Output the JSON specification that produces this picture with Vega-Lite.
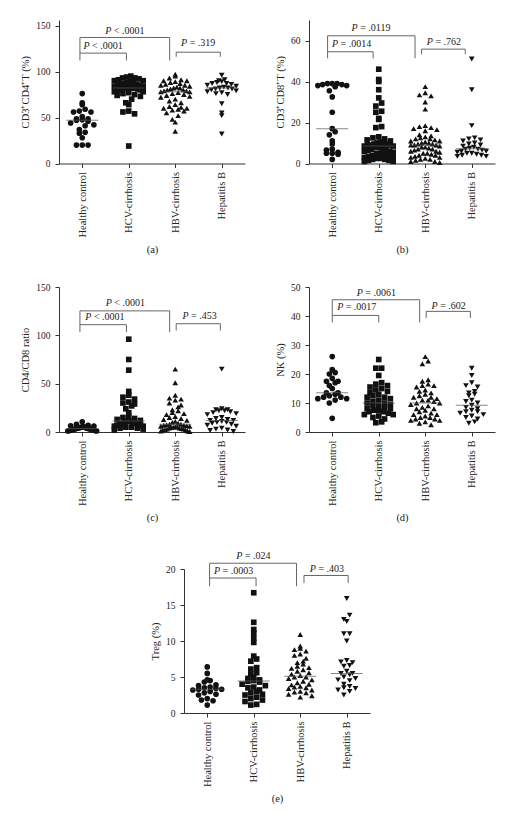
{
"$schema": "https://vega.github.io/schema/vega-lite/v6.json",
"background": "white",
"padding": {"left": 20, "top": 20, "right": 5, "bottom": 5},
"config": {"view": {"stroke": null},
 "axis": {"grid": false, "labelFont": "Liberation Serif", "titleFont": "Liberation Serif", "labelFontSize": 9.5, "titleFontSize": 10.5, "titleFontWeight": "normal", "labelColor": "#222", "titleColor": "#222", "domainColor": "#333", "tickColor": "#333", "labelFlush": false, "labelOverlap": false},
 "axisX": {"labelAngle": -90, "labelAlign": "right", "labelBaseline": "middle", "labelFontSize": 10.5, "tickSize": 4, "labelPadding": 4, "titlePadding": 7},
 "axisY": {"tickSize": 4, "labelPadding": 5, "titlePadding": 5},
 "text": {"font": "Liberation Serif"}},
"datasets": {
"pts": [
{"p":"a","g":1,"v":76},{"p":"a","g":1,"v":66},{"p":"a","g":1,"v":64},{"p":"a","g":1,"v":59},{"p":"a","g":1,"v":57},{"p":"a","g":1,"v":56},{"p":"a","g":1,"v":56},{"p":"a","g":1,"v":51},{"p":"a","g":1,"v":48.5},{"p":"a","g":1,"v":48.5},{"p":"a","g":1,"v":47.5},{"p":"a","g":1,"v":47},{"p":"a","g":1,"v":46},{"p":"a","g":1,"v":44},{"p":"a","g":1,"v":42},{"p":"a","g":1,"v":41},{"p":"a","g":1,"v":37},{"p":"a","g":1,"v":34},{"p":"a","g":1,"v":33},{"p":"a","g":1,"v":28},{"p":"a","g":1,"v":20},{"p":"a","g":1,"v":20},{"p":"a","g":1,"v":20},
{"p":"a","g":2,"v":95},{"p":"a","g":2,"v":94},{"p":"a","g":2,"v":93},{"p":"a","g":2,"v":93},{"p":"a","g":2,"v":92},{"p":"a","g":2,"v":91},{"p":"a","g":2,"v":90},{"p":"a","g":2,"v":90},{"p":"a","g":2,"v":89},{"p":"a","g":2,"v":88},{"p":"a","g":2,"v":88},{"p":"a","g":2,"v":87},{"p":"a","g":2,"v":86},{"p":"a","g":2,"v":86},{"p":"a","g":2,"v":85},{"p":"a","g":2,"v":85},{"p":"a","g":2,"v":84},{"p":"a","g":2,"v":84},{"p":"a","g":2,"v":83},{"p":"a","g":2,"v":83},{"p":"a","g":2,"v":82},{"p":"a","g":2,"v":82},{"p":"a","g":2,"v":82},{"p":"a","g":2,"v":81},{"p":"a","g":2,"v":81},{"p":"a","g":2,"v":80},{"p":"a","g":2,"v":80},{"p":"a","g":2,"v":79},{"p":"a","g":2,"v":78},{"p":"a","g":2,"v":78},{"p":"a","g":2,"v":77},{"p":"a","g":2,"v":76},{"p":"a","g":2,"v":75},{"p":"a","g":2,"v":74},{"p":"a","g":2,"v":73},{"p":"a","g":2,"v":70},{"p":"a","g":2,"v":66},{"p":"a","g":2,"v":64},{"p":"a","g":2,"v":57},{"p":"a","g":2,"v":56},{"p":"a","g":2,"v":54},{"p":"a","g":2,"v":19},
{"p":"a","g":3,"v":97},{"p":"a","g":3,"v":95},{"p":"a","g":3,"v":93},{"p":"a","g":3,"v":91},{"p":"a","g":3,"v":90},{"p":"a","g":3,"v":90},{"p":"a","g":3,"v":89},{"p":"a","g":3,"v":88},{"p":"a","g":3,"v":87},{"p":"a","g":3,"v":86},{"p":"a","g":3,"v":85},{"p":"a","g":3,"v":85},{"p":"a","g":3,"v":84},{"p":"a","g":3,"v":83},{"p":"a","g":3,"v":82},{"p":"a","g":3,"v":82},{"p":"a","g":3,"v":81},{"p":"a","g":3,"v":80},{"p":"a","g":3,"v":80},{"p":"a","g":3,"v":79},{"p":"a","g":3,"v":79},{"p":"a","g":3,"v":78},{"p":"a","g":3,"v":78},{"p":"a","g":3,"v":77},{"p":"a","g":3,"v":76},{"p":"a","g":3,"v":75},{"p":"a","g":3,"v":74},{"p":"a","g":3,"v":73},{"p":"a","g":3,"v":72},{"p":"a","g":3,"v":70},{"p":"a","g":3,"v":68},{"p":"a","g":3,"v":66},{"p":"a","g":3,"v":64},{"p":"a","g":3,"v":62},{"p":"a","g":3,"v":61},{"p":"a","g":3,"v":60},{"p":"a","g":3,"v":60},{"p":"a","g":3,"v":59},{"p":"a","g":3,"v":58},{"p":"a","g":3,"v":57},{"p":"a","g":3,"v":55},{"p":"a","g":3,"v":52},{"p":"a","g":3,"v":48},{"p":"a","g":3,"v":45},{"p":"a","g":3,"v":35},
{"p":"a","g":4,"v":96},{"p":"a","g":4,"v":91},{"p":"a","g":4,"v":90},{"p":"a","g":4,"v":89},{"p":"a","g":4,"v":88},{"p":"a","g":4,"v":87},{"p":"a","g":4,"v":87},{"p":"a","g":4,"v":86},{"p":"a","g":4,"v":85},{"p":"a","g":4,"v":84},{"p":"a","g":4,"v":83},{"p":"a","g":4,"v":82},{"p":"a","g":4,"v":82},{"p":"a","g":4,"v":81},{"p":"a","g":4,"v":81},{"p":"a","g":4,"v":80},{"p":"a","g":4,"v":79},{"p":"a","g":4,"v":78},{"p":"a","g":4,"v":77},{"p":"a","g":4,"v":76},{"p":"a","g":4,"v":75},{"p":"a","g":4,"v":65},{"p":"a","g":4,"v":55},{"p":"a","g":4,"v":52},{"p":"a","g":4,"v":32},
{"p":"b","g":1,"v":39},{"p":"b","g":1,"v":39},{"p":"b","g":1,"v":39},{"p":"b","g":1,"v":38.5},{"p":"b","g":1,"v":38.5},{"p":"b","g":1,"v":38},{"p":"b","g":1,"v":38},{"p":"b","g":1,"v":37.5},{"p":"b","g":1,"v":35.5},{"p":"b","g":1,"v":32.5},{"p":"b","g":1,"v":25},{"p":"b","g":1,"v":17},{"p":"b","g":1,"v":15.5},{"p":"b","g":1,"v":14},{"p":"b","g":1,"v":11},{"p":"b","g":1,"v":9.5},{"p":"b","g":1,"v":7},{"p":"b","g":1,"v":6.5},{"p":"b","g":1,"v":5.5},{"p":"b","g":1,"v":5},{"p":"b","g":1,"v":5},{"p":"b","g":1,"v":4.5},{"p":"b","g":1,"v":2},
{"p":"b","g":2,"v":46},{"p":"b","g":2,"v":41},{"p":"b","g":2,"v":40},{"p":"b","g":2,"v":36},{"p":"b","g":2,"v":32},{"p":"b","g":2,"v":29.5},{"p":"b","g":2,"v":28},{"p":"b","g":2,"v":25.5},{"p":"b","g":2,"v":25},{"p":"b","g":2,"v":22},{"p":"b","g":2,"v":21.5},{"p":"b","g":2,"v":18},{"p":"b","g":2,"v":17.5},{"p":"b","g":2,"v":13},{"p":"b","g":2,"v":12.5},{"p":"b","g":2,"v":12},{"p":"b","g":2,"v":11.5},{"p":"b","g":2,"v":11},{"p":"b","g":2,"v":10.5},{"p":"b","g":2,"v":10},{"p":"b","g":2,"v":10},{"p":"b","g":2,"v":9.5},{"p":"b","g":2,"v":9.5},{"p":"b","g":2,"v":9},{"p":"b","g":2,"v":9},{"p":"b","g":2,"v":9},{"p":"b","g":2,"v":8.5},{"p":"b","g":2,"v":8.5},{"p":"b","g":2,"v":8},{"p":"b","g":2,"v":8},{"p":"b","g":2,"v":7.5},{"p":"b","g":2,"v":7},{"p":"b","g":2,"v":7},{"p":"b","g":2,"v":6.5},{"p":"b","g":2,"v":6},{"p":"b","g":2,"v":6},{"p":"b","g":2,"v":5.5},{"p":"b","g":2,"v":5},{"p":"b","g":2,"v":5},{"p":"b","g":2,"v":4.5},{"p":"b","g":2,"v":4},{"p":"b","g":2,"v":4},{"p":"b","g":2,"v":3.5},{"p":"b","g":2,"v":3},{"p":"b","g":2,"v":3},{"p":"b","g":2,"v":2.5},{"p":"b","g":2,"v":2.5},{"p":"b","g":2,"v":2},{"p":"b","g":2,"v":2},{"p":"b","g":2,"v":1.5},{"p":"b","g":2,"v":1.5},{"p":"b","g":2,"v":1},{"p":"b","g":2,"v":1},
{"p":"b","g":3,"v":37.5},{"p":"b","g":3,"v":34.5},{"p":"b","g":3,"v":33.5},{"p":"b","g":3,"v":33},{"p":"b","g":3,"v":30},{"p":"b","g":3,"v":26.5},{"p":"b","g":3,"v":18.5},{"p":"b","g":3,"v":18},{"p":"b","g":3,"v":17.5},{"p":"b","g":3,"v":17},{"p":"b","g":3,"v":16.5},{"p":"b","g":3,"v":16},{"p":"b","g":3,"v":14},{"p":"b","g":3,"v":13.5},{"p":"b","g":3,"v":13},{"p":"b","g":3,"v":12.5},{"p":"b","g":3,"v":12},{"p":"b","g":3,"v":12},{"p":"b","g":3,"v":11.5},{"p":"b","g":3,"v":11},{"p":"b","g":3,"v":11},{"p":"b","g":3,"v":10.5},{"p":"b","g":3,"v":10},{"p":"b","g":3,"v":10},{"p":"b","g":3,"v":9.5},{"p":"b","g":3,"v":9.5},{"p":"b","g":3,"v":9},{"p":"b","g":3,"v":9},{"p":"b","g":3,"v":9},{"p":"b","g":3,"v":8.5},{"p":"b","g":3,"v":8},{"p":"b","g":3,"v":8},{"p":"b","g":3,"v":7.5},{"p":"b","g":3,"v":7},{"p":"b","g":3,"v":7},{"p":"b","g":3,"v":6.5},{"p":"b","g":3,"v":6},{"p":"b","g":3,"v":6},{"p":"b","g":3,"v":5.5},{"p":"b","g":3,"v":5},{"p":"b","g":3,"v":5},{"p":"b","g":3,"v":4.5},{"p":"b","g":3,"v":4},{"p":"b","g":3,"v":4},{"p":"b","g":3,"v":3.5},{"p":"b","g":3,"v":3},{"p":"b","g":3,"v":3},{"p":"b","g":3,"v":2.5},{"p":"b","g":3,"v":2},{"p":"b","g":3,"v":2},{"p":"b","g":3,"v":1.5},{"p":"b","g":3,"v":1},{"p":"b","g":3,"v":1},{"p":"b","g":3,"v":0.5},
{"p":"b","g":4,"v":51},{"p":"b","g":4,"v":36},{"p":"b","g":4,"v":18.5},{"p":"b","g":4,"v":12.5},{"p":"b","g":4,"v":12},{"p":"b","g":4,"v":11.5},{"p":"b","g":4,"v":11},{"p":"b","g":4,"v":10},{"p":"b","g":4,"v":9.5},{"p":"b","g":4,"v":9},{"p":"b","g":4,"v":8.5},{"p":"b","g":4,"v":8},{"p":"b","g":4,"v":7.5},{"p":"b","g":4,"v":7},{"p":"b","g":4,"v":7},{"p":"b","g":4,"v":6.5},{"p":"b","g":4,"v":6},{"p":"b","g":4,"v":6},{"p":"b","g":4,"v":5.5},{"p":"b","g":4,"v":5},{"p":"b","g":4,"v":5},{"p":"b","g":4,"v":4.5},{"p":"b","g":4,"v":4},{"p":"b","g":4,"v":4},{"p":"b","g":4,"v":3.5},{"p":"b","g":4,"v":3.5},
{"p":"c","g":1,"v":10.5},{"p":"c","g":1,"v":8},{"p":"c","g":1,"v":7},{"p":"c","g":1,"v":6.5},{"p":"c","g":1,"v":6},{"p":"c","g":1,"v":5.5},{"p":"c","g":1,"v":5},{"p":"c","g":1,"v":5},{"p":"c","g":1,"v":4.5},{"p":"c","g":1,"v":4},{"p":"c","g":1,"v":4},{"p":"c","g":1,"v":3.5},{"p":"c","g":1,"v":3.5},{"p":"c","g":1,"v":3},{"p":"c","g":1,"v":3},{"p":"c","g":1,"v":2.5},{"p":"c","g":1,"v":2.5},{"p":"c","g":1,"v":2},{"p":"c","g":1,"v":2},{"p":"c","g":1,"v":1.5},{"p":"c","g":1,"v":1.5},{"p":"c","g":1,"v":1},{"p":"c","g":1,"v":1},
{"p":"c","g":2,"v":96},{"p":"c","g":2,"v":75},{"p":"c","g":2,"v":64},{"p":"c","g":2,"v":42},{"p":"c","g":2,"v":38},{"p":"c","g":2,"v":36},{"p":"c","g":2,"v":34},{"p":"c","g":2,"v":31},{"p":"c","g":2,"v":30},{"p":"c","g":2,"v":29},{"p":"c","g":2,"v":27},{"p":"c","g":2,"v":24},{"p":"c","g":2,"v":20},{"p":"c","g":2,"v":16},{"p":"c","g":2,"v":15},{"p":"c","g":2,"v":14},{"p":"c","g":2,"v":13},{"p":"c","g":2,"v":12},{"p":"c","g":2,"v":11},{"p":"c","g":2,"v":11},{"p":"c","g":2,"v":10},{"p":"c","g":2,"v":10},{"p":"c","g":2,"v":9},{"p":"c","g":2,"v":9},{"p":"c","g":2,"v":8},{"p":"c","g":2,"v":8},{"p":"c","g":2,"v":7},{"p":"c","g":2,"v":7},{"p":"c","g":2,"v":6},{"p":"c","g":2,"v":6},{"p":"c","g":2,"v":5},{"p":"c","g":2,"v":5},{"p":"c","g":2,"v":4},{"p":"c","g":2,"v":4},{"p":"c","g":2,"v":3},{"p":"c","g":2,"v":2},
{"p":"c","g":3,"v":65},{"p":"c","g":3,"v":51},{"p":"c","g":3,"v":38},{"p":"c","g":3,"v":35},{"p":"c","g":3,"v":34},{"p":"c","g":3,"v":33},{"p":"c","g":3,"v":30},{"p":"c","g":3,"v":28},{"p":"c","g":3,"v":26},{"p":"c","g":3,"v":23},{"p":"c","g":3,"v":22},{"p":"c","g":3,"v":20},{"p":"c","g":3,"v":19},{"p":"c","g":3,"v":18},{"p":"c","g":3,"v":16},{"p":"c","g":3,"v":15},{"p":"c","g":3,"v":14},{"p":"c","g":3,"v":13},{"p":"c","g":3,"v":12},{"p":"c","g":3,"v":11},{"p":"c","g":3,"v":10},{"p":"c","g":3,"v":9},{"p":"c","g":3,"v":8},{"p":"c","g":3,"v":8},{"p":"c","g":3,"v":7.5},{"p":"c","g":3,"v":7},{"p":"c","g":3,"v":7},{"p":"c","g":3,"v":6.5},{"p":"c","g":3,"v":6},{"p":"c","g":3,"v":6},{"p":"c","g":3,"v":5.5},{"p":"c","g":3,"v":5},{"p":"c","g":3,"v":5},{"p":"c","g":3,"v":4.5},{"p":"c","g":3,"v":4},{"p":"c","g":3,"v":4},{"p":"c","g":3,"v":3.5},{"p":"c","g":3,"v":3},{"p":"c","g":3,"v":3},{"p":"c","g":3,"v":2.5},{"p":"c","g":3,"v":2},{"p":"c","g":3,"v":2},{"p":"c","g":3,"v":1},{"p":"c","g":3,"v":1},{"p":"c","g":3,"v":0.5},
{"p":"c","g":4,"v":65},{"p":"c","g":4,"v":24},{"p":"c","g":4,"v":23},{"p":"c","g":4,"v":23},{"p":"c","g":4,"v":22},{"p":"c","g":4,"v":22},{"p":"c","g":4,"v":21},{"p":"c","g":4,"v":20},{"p":"c","g":4,"v":19},{"p":"c","g":4,"v":18},{"p":"c","g":4,"v":15},{"p":"c","g":4,"v":14},{"p":"c","g":4,"v":13},{"p":"c","g":4,"v":12},{"p":"c","g":4,"v":12},{"p":"c","g":4,"v":11},{"p":"c","g":4,"v":10},{"p":"c","g":4,"v":10},{"p":"c","g":4,"v":9},{"p":"c","g":4,"v":8},{"p":"c","g":4,"v":7},{"p":"c","g":4,"v":6},{"p":"c","g":4,"v":4},{"p":"c","g":4,"v":3},{"p":"c","g":4,"v":2},{"p":"c","g":4,"v":1.5},{"p":"c","g":4,"v":0.5},
{"p":"d","g":1,"v":26},{"p":"d","g":1,"v":21.5},{"p":"d","g":1,"v":20.5},{"p":"d","g":1,"v":20},{"p":"d","g":1,"v":18.5},{"p":"d","g":1,"v":17.5},{"p":"d","g":1,"v":17.5},{"p":"d","g":1,"v":17},{"p":"d","g":1,"v":16},{"p":"d","g":1,"v":15},{"p":"d","g":1,"v":13.5},{"p":"d","g":1,"v":13.5},{"p":"d","g":1,"v":13},{"p":"d","g":1,"v":12.5},{"p":"d","g":1,"v":12},{"p":"d","g":1,"v":12},{"p":"d","g":1,"v":11.5},{"p":"d","g":1,"v":11.5},{"p":"d","g":1,"v":11},{"p":"d","g":1,"v":10},{"p":"d","g":1,"v":4.7},
{"p":"d","g":2,"v":25},{"p":"d","g":2,"v":22},{"p":"d","g":2,"v":22},{"p":"d","g":2,"v":19.5},{"p":"d","g":2,"v":17},{"p":"d","g":2,"v":16.5},{"p":"d","g":2,"v":16},{"p":"d","g":2,"v":15.5},{"p":"d","g":2,"v":15},{"p":"d","g":2,"v":14.5},{"p":"d","g":2,"v":14},{"p":"d","g":2,"v":13.5},{"p":"d","g":2,"v":13},{"p":"d","g":2,"v":12.5},{"p":"d","g":2,"v":12},{"p":"d","g":2,"v":12},{"p":"d","g":2,"v":11.5},{"p":"d","g":2,"v":11},{"p":"d","g":2,"v":10.5},{"p":"d","g":2,"v":10},{"p":"d","g":2,"v":10},{"p":"d","g":2,"v":9.5},{"p":"d","g":2,"v":9},{"p":"d","g":2,"v":9},{"p":"d","g":2,"v":8.5},{"p":"d","g":2,"v":8},{"p":"d","g":2,"v":8},{"p":"d","g":2,"v":7.5},{"p":"d","g":2,"v":7.5},{"p":"d","g":2,"v":7},{"p":"d","g":2,"v":7},{"p":"d","g":2,"v":6.5},{"p":"d","g":2,"v":6},{"p":"d","g":2,"v":6},{"p":"d","g":2,"v":5.5},{"p":"d","g":2,"v":5},{"p":"d","g":2,"v":4.5},{"p":"d","g":2,"v":3.5},{"p":"d","g":2,"v":3.2},
{"p":"d","g":3,"v":26},{"p":"d","g":3,"v":24.5},{"p":"d","g":3,"v":23.5},{"p":"d","g":3,"v":18},{"p":"d","g":3,"v":17.5},{"p":"d","g":3,"v":16.5},{"p":"d","g":3,"v":16},{"p":"d","g":3,"v":16},{"p":"d","g":3,"v":15.5},{"p":"d","g":3,"v":14.5},{"p":"d","g":3,"v":14},{"p":"d","g":3,"v":13.5},{"p":"d","g":3,"v":13},{"p":"d","g":3,"v":12.5},{"p":"d","g":3,"v":12},{"p":"d","g":3,"v":12},{"p":"d","g":3,"v":11.5},{"p":"d","g":3,"v":11},{"p":"d","g":3,"v":11},{"p":"d","g":3,"v":10.5},{"p":"d","g":3,"v":10},{"p":"d","g":3,"v":10},{"p":"d","g":3,"v":9.5},{"p":"d","g":3,"v":9},{"p":"d","g":3,"v":8.5},{"p":"d","g":3,"v":8},{"p":"d","g":3,"v":8},{"p":"d","g":3,"v":7.5},{"p":"d","g":3,"v":7},{"p":"d","g":3,"v":6.5},{"p":"d","g":3,"v":6},{"p":"d","g":3,"v":6},{"p":"d","g":3,"v":5.5},{"p":"d","g":3,"v":5},{"p":"d","g":3,"v":5},{"p":"d","g":3,"v":4.5},{"p":"d","g":3,"v":4.5},{"p":"d","g":3,"v":4},{"p":"d","g":3,"v":4},{"p":"d","g":3,"v":3.5},{"p":"d","g":3,"v":3},{"p":"d","g":3,"v":2.5},
{"p":"d","g":4,"v":22},{"p":"d","g":4,"v":19.5},{"p":"d","g":4,"v":17},{"p":"d","g":4,"v":16},{"p":"d","g":4,"v":15.5},{"p":"d","g":4,"v":14},{"p":"d","g":4,"v":13.5},{"p":"d","g":4,"v":13},{"p":"d","g":4,"v":12.5},{"p":"d","g":4,"v":11},{"p":"d","g":4,"v":10.5},{"p":"d","g":4,"v":10},{"p":"d","g":4,"v":9.2},{"p":"d","g":4,"v":8.5},{"p":"d","g":4,"v":8},{"p":"d","g":4,"v":7.5},{"p":"d","g":4,"v":7},{"p":"d","g":4,"v":7},{"p":"d","g":4,"v":6.5},{"p":"d","g":4,"v":6},{"p":"d","g":4,"v":5.5},{"p":"d","g":4,"v":5},{"p":"d","g":4,"v":4.5},{"p":"d","g":4,"v":3.5},{"p":"d","g":4,"v":3},
{"p":"e","g":1,"v":6.4},{"p":"e","g":1,"v":5.5},{"p":"e","g":1,"v":4.6},{"p":"e","g":1,"v":4.5},{"p":"e","g":1,"v":4.3},{"p":"e","g":1,"v":3.9},{"p":"e","g":1,"v":3.8},{"p":"e","g":1,"v":3.6},{"p":"e","g":1,"v":3.5},{"p":"e","g":1,"v":3.4},{"p":"e","g":1,"v":3.3},{"p":"e","g":1,"v":3.3},{"p":"e","g":1,"v":3.2},{"p":"e","g":1,"v":3.0},{"p":"e","g":1,"v":2.8},{"p":"e","g":1,"v":2.6},{"p":"e","g":1,"v":2.5},{"p":"e","g":1,"v":2.0},{"p":"e","g":1,"v":1.8},{"p":"e","g":1,"v":1.7},{"p":"e","g":1,"v":1.1},
{"p":"e","g":2,"v":16.7},{"p":"e","g":2,"v":12.6},{"p":"e","g":2,"v":11.6},{"p":"e","g":2,"v":11.1},{"p":"e","g":2,"v":10.4},{"p":"e","g":2,"v":9.8},{"p":"e","g":2,"v":7.9},{"p":"e","g":2,"v":7.5},{"p":"e","g":2,"v":7.2},{"p":"e","g":2,"v":6.3},{"p":"e","g":2,"v":6.1},{"p":"e","g":2,"v":5.6},{"p":"e","g":2,"v":5.4},{"p":"e","g":2,"v":5.0},{"p":"e","g":2,"v":4.8},{"p":"e","g":2,"v":4.6},{"p":"e","g":2,"v":4.5},{"p":"e","g":2,"v":4.4},{"p":"e","g":2,"v":4.3},{"p":"e","g":2,"v":4.0},{"p":"e","g":2,"v":3.8},{"p":"e","g":2,"v":3.6},{"p":"e","g":2,"v":3.5},{"p":"e","g":2,"v":3.2},{"p":"e","g":2,"v":3.0},{"p":"e","g":2,"v":2.8},{"p":"e","g":2,"v":2.6},{"p":"e","g":2,"v":2.5},{"p":"e","g":2,"v":2.2},{"p":"e","g":2,"v":2.0},{"p":"e","g":2,"v":1.8},{"p":"e","g":2,"v":1.6},{"p":"e","g":2,"v":1.2},{"p":"e","g":2,"v":1.1},
{"p":"e","g":3,"v":10.9},{"p":"e","g":3,"v":9.3},{"p":"e","g":3,"v":9.0},{"p":"e","g":3,"v":8.8},{"p":"e","g":3,"v":8.6},{"p":"e","g":3,"v":8.2},{"p":"e","g":3,"v":8.0},{"p":"e","g":3,"v":7.6},{"p":"e","g":3,"v":7.2},{"p":"e","g":3,"v":7.0},{"p":"e","g":3,"v":6.8},{"p":"e","g":3,"v":6.5},{"p":"e","g":3,"v":6.3},{"p":"e","g":3,"v":6.2},{"p":"e","g":3,"v":6.0},{"p":"e","g":3,"v":5.8},{"p":"e","g":3,"v":5.6},{"p":"e","g":3,"v":5.4},{"p":"e","g":3,"v":5.2},{"p":"e","g":3,"v":5.0},{"p":"e","g":3,"v":5.0},{"p":"e","g":3,"v":4.8},{"p":"e","g":3,"v":4.6},{"p":"e","g":3,"v":4.4},{"p":"e","g":3,"v":4.2},{"p":"e","g":3,"v":4.0},{"p":"e","g":3,"v":3.9},{"p":"e","g":3,"v":3.7},{"p":"e","g":3,"v":3.6},{"p":"e","g":3,"v":3.5},{"p":"e","g":3,"v":3.4},{"p":"e","g":3,"v":3.2},{"p":"e","g":3,"v":3.0},{"p":"e","g":3,"v":2.9},{"p":"e","g":3,"v":2.8},{"p":"e","g":3,"v":2.6},{"p":"e","g":3,"v":2.4},{"p":"e","g":3,"v":2.2},
{"p":"e","g":4,"v":15.9},{"p":"e","g":4,"v":13.6},{"p":"e","g":4,"v":13.0},{"p":"e","g":4,"v":12.7},{"p":"e","g":4,"v":11.0},{"p":"e","g":4,"v":11.0},{"p":"e","g":4,"v":10.0},{"p":"e","g":4,"v":7.3},{"p":"e","g":4,"v":7.1},{"p":"e","g":4,"v":7.0},{"p":"e","g":4,"v":6.6},{"p":"e","g":4,"v":6.5},{"p":"e","g":4,"v":5.8},{"p":"e","g":4,"v":5.5},{"p":"e","g":4,"v":5.5},{"p":"e","g":4,"v":5.3},{"p":"e","g":4,"v":5.0},{"p":"e","g":4,"v":4.8},{"p":"e","g":4,"v":4.6},{"p":"e","g":4,"v":4.5},{"p":"e","g":4,"v":4.0},{"p":"e","g":4,"v":3.7},{"p":"e","g":4,"v":3.5},{"p":"e","g":4,"v":3.4},{"p":"e","g":4,"v":3.2},{"p":"e","g":4,"v":3.0},{"p":"e","g":4,"v":2.5}
],
"br": [
{"p":"a","x":0.95,"x2":2.88,"v":137,"v2":137},{"p":"a","x":0.95,"x2":0.95,"v":137,"v2":112},{"p":"a","x":2.88,"x2":2.88,"v":137,"v2":112},{"p":"a","x":0.95,"x2":1.95,"v":120,"v2":120},{"p":"a","x":1.95,"x2":1.95,"v":120,"v2":112},{"p":"a","x":3.02,"x2":3.97,"v":121,"v2":121},{"p":"a","x":3.02,"x2":3.02,"v":121,"v2":116},{"p":"a","x":3.97,"x2":3.97,"v":121,"v2":116},
{"p":"b","x":0.9,"x2":2.78,"v":62.3,"v2":62.3},{"p":"b","x":0.9,"x2":0.9,"v":62.3,"v2":51.3},{"p":"b","x":2.78,"x2":2.78,"v":62.3,"v2":51.3},{"p":"b","x":0.9,"x2":1.88,"v":54.5,"v2":54.5},{"p":"b","x":1.88,"x2":1.88,"v":54.5,"v2":51.3},{"p":"b","x":2.92,"x2":3.86,"v":55.8,"v2":55.8},{"p":"b","x":2.92,"x2":2.92,"v":55.8,"v2":53.3},{"p":"b","x":3.86,"x2":3.86,"v":55.8,"v2":53.3},
{"p":"c","x":0.95,"x2":2.88,"v":125.3,"v2":125.3},{"p":"c","x":0.95,"x2":0.95,"v":125.3,"v2":103.3},{"p":"c","x":2.88,"x2":2.88,"v":125.3,"v2":103.3},{"p":"c","x":0.95,"x2":1.95,"v":111,"v2":111},{"p":"c","x":1.95,"x2":1.95,"v":111,"v2":103.3},{"p":"c","x":3.02,"x2":3.97,"v":112,"v2":112},{"p":"c","x":3.02,"x2":3.02,"v":112,"v2":105},{"p":"c","x":3.97,"x2":3.97,"v":112,"v2":105},
{"p":"d","x":1.0,"x2":2.88,"v":45.6,"v2":45.6},{"p":"d","x":1.0,"x2":1.0,"v":45.6,"v2":37.8},{"p":"d","x":2.88,"x2":2.88,"v":45.6,"v2":37.8},{"p":"d","x":1.0,"x2":2.0,"v":40.2,"v2":40.2},{"p":"d","x":2.0,"x2":2.0,"v":40.2,"v2":37.8},{"p":"d","x":3.02,"x2":3.97,"v":41.6,"v2":41.6},{"p":"d","x":3.02,"x2":3.02,"v":41.6,"v2":39.3},{"p":"d","x":3.97,"x2":3.97,"v":41.6,"v2":39.3},
{"p":"e","x":1.05,"x2":2.92,"v":20.8,"v2":20.8},{"p":"e","x":1.05,"x2":1.05,"v":20.8,"v2":17.6},{"p":"e","x":2.92,"x2":2.92,"v":20.8,"v2":17.6},{"p":"e","x":1.05,"x2":2.05,"v":18.75,"v2":18.75},{"p":"e","x":2.05,"x2":2.05,"v":18.75,"v2":17.6},{"p":"e","x":3.08,"x2":4.03,"v":19.1,"v2":19.1},{"p":"e","x":3.08,"x2":3.08,"v":19.1,"v2":18.06},{"p":"e","x":4.03,"x2":4.03,"v":19.1,"v2":18.06}
],
"lab": [
{"p":"a","x":1.68,"v":143.5,"s":"P","t":"< .0001"},{"p":"a","x":1.21,"v":127.2,"s":"P","t":"< .0001"},{"p":"a","x":3.31,"v":130.8,"s":"P","t":"= .319"},
{"p":"b","x":1.6,"v":66,"s":"P","t":"= .0119"},{"p":"b","x":1.18,"v":58.1,"s":"P","t":"= .0014"},{"p":"b","x":3.22,"v":59.4,"s":"P","t":"= .762"},
{"p":"c","x":1.69,"v":133,"s":"P","t":"< .0001"},{"p":"c","x":1.25,"v":118.5,"s":"P","t":"< .0001"},{"p":"c","x":3.34,"v":120.2,"s":"P","t":"= .453"},
{"p":"d","x":1.71,"v":47.9,"s":"P","t":"= .0061"},{"p":"d","x":1.29,"v":43.0,"s":"P","t":"= .0017"},{"p":"d","x":3.32,"v":43.6,"s":"P","t":"= .602"},
{"p":"e","x":1.81,"v":21.8,"s":"P","t":"= .024"},{"p":"e","x":1.33,"v":19.7,"s":"P","t":"= .0003"},{"p":"e","x":3.39,"v":20.0,"s":"P","t":"= .403"}
]
},
"spacing": 27,
"center": true,
"vconcat": [
{"hconcat": [
{"width": 186, "height": 143.5,
 "encoding": {
  "x": {"field": "x", "type": "quantitative", "scale": {"domain": [0.5,4.5], "nice": false, "zero": false}, "axis": {"values": [1,2,3,4], "labelExpr": "['','Healthy control','HCV-cirrhosis','HBV-cirrhosis','Hepatitis B'][datum.value]", "title": "(a)"}},
  "y": {"field": "v", "type": "quantitative", "scale": {"domain": [0,156], "nice": false}, "axis": {"values": [0,50,100,150], "title": "CD3⁺CD4⁺T (%)"}}},
 "layer": [
 {"data": {"name": "pts"}, "transform": [{"filter": "datum.p=='a'"},{"calculate": "floor(datum.v/6)", "as": "bin"},{"window": [{"op": "row_number", "as": "k"}], "groupby": ["g","bin"]},{"joinaggregate": [{"op": "count", "as": "n"}], "groupby": ["g","bin"]},{"calculate": "datum.g+((datum.k%2==1?(datum.k-1)/2:-datum.k/2)+(datum.n%2==0?0.5:0))*min(0.125,0.62/max(1,datum.n-1))", "as": "x"}],
  "mark": {"type": "point", "filled": true, "size": 32, "color": "#111", "opacity": 1},
  "encoding": {"shape": {"field": "g", "type": "nominal", "scale": {"domain": [1,2,3,4], "range": ["circle","square","triangle-up","triangle-down"]}, "legend": null}}},
 {"data": {"name": "pts"}, "transform": [{"filter": "datum.p=='a'"},{"aggregate": [{"op": "median", "field": "v", "as": "v"}], "groupby": ["g"]},{"calculate": "datum.g", "as": "x"}],
  "mark": {"type": "tick", "orient": "horizontal", "size": 32, "thickness": 1, "color": "#555"}},
 {"data": {"name": "br"}, "transform": [{"filter": "datum.p=='a'"}], "mark": {"type": "rule", "color": "#666", "strokeWidth": 1}, "encoding": {"x2": {"field": "x2"}, "y2": {"field": "v2"}}},
 {"data": {"name": "lab"}, "transform": [{"filter": "datum.p=='a'"}], "mark": {"type": "text", "fontStyle": "italic", "align": "right", "baseline": "middle", "dx": -2.5, "fontSize": 10, "color": "#222"}, "encoding": {"text": {"field": "s"}}},
 {"data": {"name": "lab"}, "transform": [{"filter": "datum.p=='a'"}], "mark": {"type": "text", "align": "left", "baseline": "middle", "fontSize": 10, "color": "#222"}, "encoding": {"text": {"field": "t"}}}
]},
{"width": 186, "height": 143.5,
 "encoding": {
  "x": {"field": "x", "type": "quantitative", "scale": {"domain": [0.5,4.5], "nice": false, "zero": false}, "axis": {"values": [1,2,3,4], "labelExpr": "['','Healthy control','HCV-cirrhosis','HBV-cirrhosis','Hepatitis B'][datum.value]", "title": "(b)"}},
  "y": {"field": "v", "type": "quantitative", "scale": {"domain": [0,70], "nice": false}, "axis": {"values": [0,20,40,60], "title": "CD3⁺CD8⁺T (%)"}}},
 "layer": [
 {"data": {"name": "pts"}, "transform": [{"filter": "datum.p=='b'"},{"calculate": "floor(datum.v/2.7)", "as": "bin"},{"window": [{"op": "row_number", "as": "k"}], "groupby": ["g","bin"]},{"joinaggregate": [{"op": "count", "as": "n"}], "groupby": ["g","bin"]},{"calculate": "datum.g+((datum.k%2==1?(datum.k-1)/2:-datum.k/2)+(datum.n%2==0?0.5:0))*min(0.125,0.62/max(1,datum.n-1))", "as": "x"}],
  "mark": {"type": "point", "filled": true, "size": 32, "color": "#111", "opacity": 1},
  "encoding": {"shape": {"field": "g", "type": "nominal", "scale": {"domain": [1,2,3,4], "range": ["circle","square","triangle-up","triangle-down"]}, "legend": null}}},
 {"data": {"name": "pts"}, "transform": [{"filter": "datum.p=='b'"},{"aggregate": [{"op": "median", "field": "v", "as": "v"}], "groupby": ["g"]},{"calculate": "datum.g", "as": "x"}],
  "mark": {"type": "tick", "orient": "horizontal", "size": 32, "thickness": 1, "color": "#555"}},
 {"data": {"name": "br"}, "transform": [{"filter": "datum.p=='b'"}], "mark": {"type": "rule", "color": "#666", "strokeWidth": 1}, "encoding": {"x2": {"field": "x2"}, "y2": {"field": "v2"}}},
 {"data": {"name": "lab"}, "transform": [{"filter": "datum.p=='b'"}], "mark": {"type": "text", "fontStyle": "italic", "align": "right", "baseline": "middle", "dx": -2.5, "fontSize": 10, "color": "#222"}, "encoding": {"text": {"field": "s"}}},
 {"data": {"name": "lab"}, "transform": [{"filter": "datum.p=='b'"}], "mark": {"type": "text", "align": "left", "baseline": "middle", "fontSize": 10, "color": "#222"}, "encoding": {"text": {"field": "t"}}}
]}
], "spacing": 30},
{"hconcat": [
{"width": 186, "height": 145,
 "encoding": {
  "x": {"field": "x", "type": "quantitative", "scale": {"domain": [0.5,4.5], "nice": false, "zero": false}, "axis": {"values": [1,2,3,4], "labelExpr": "['','Healthy control','HCV-cirrhosis','HBV-cirrhosis','Hepatitis B'][datum.value]", "title": "(c)"}},
  "y": {"field": "v", "type": "quantitative", "scale": {"domain": [0,150], "nice": false}, "axis": {"values": [0,50,100,150], "title": "CD4/CD8 ratio"}}},
 "layer": [
 {"data": {"name": "pts"}, "transform": [{"filter": "datum.p=='c'"},{"calculate": "floor(datum.v/5.6)", "as": "bin"},{"window": [{"op": "row_number", "as": "k"}], "groupby": ["g","bin"]},{"joinaggregate": [{"op": "count", "as": "n"}], "groupby": ["g","bin"]},{"calculate": "datum.g+((datum.k%2==1?(datum.k-1)/2:-datum.k/2)+(datum.n%2==0?0.5:0))*min(0.125,0.62/max(1,datum.n-1))", "as": "x"}],
  "mark": {"type": "point", "filled": true, "size": 32, "color": "#111", "opacity": 1},
  "encoding": {"shape": {"field": "g", "type": "nominal", "scale": {"domain": [1,2,3,4], "range": ["circle","square","triangle-up","triangle-down"]}, "legend": null}}},
 {"data": {"name": "pts"}, "transform": [{"filter": "datum.p=='c'"},{"aggregate": [{"op": "median", "field": "v", "as": "v"}], "groupby": ["g"]},{"calculate": "datum.g", "as": "x"}],
  "mark": {"type": "tick", "orient": "horizontal", "size": 32, "thickness": 1, "color": "#555"}},
 {"data": {"name": "br"}, "transform": [{"filter": "datum.p=='c'"}], "mark": {"type": "rule", "color": "#666", "strokeWidth": 1}, "encoding": {"x2": {"field": "x2"}, "y2": {"field": "v2"}}},
 {"data": {"name": "lab"}, "transform": [{"filter": "datum.p=='c'"}], "mark": {"type": "text", "fontStyle": "italic", "align": "right", "baseline": "middle", "dx": -2.5, "fontSize": 10, "color": "#222"}, "encoding": {"text": {"field": "s"}}},
 {"data": {"name": "lab"}, "transform": [{"filter": "datum.p=='c'"}], "mark": {"type": "text", "align": "left", "baseline": "middle", "fontSize": 10, "color": "#222"}, "encoding": {"text": {"field": "t"}}}
]},
{"width": 186, "height": 145,
 "encoding": {
  "x": {"field": "x", "type": "quantitative", "scale": {"domain": [0.5,4.5], "nice": false, "zero": false}, "axis": {"values": [1,2,3,4], "labelExpr": "['','Healthy control','HCV-cirrhosis','HBV-cirrhosis','Hepatitis B'][datum.value]", "title": "(d)"}},
  "y": {"field": "v", "type": "quantitative", "scale": {"domain": [0,50], "nice": false}, "axis": {"values": [0,10,20,30,40,50], "title": "NK (%)"}}},
 "layer": [
 {"data": {"name": "pts"}, "transform": [{"filter": "datum.p=='d'"},{"calculate": "floor(datum.v/1.9)", "as": "bin"},{"window": [{"op": "row_number", "as": "k"}], "groupby": ["g","bin"]},{"joinaggregate": [{"op": "count", "as": "n"}], "groupby": ["g","bin"]},{"calculate": "datum.g+((datum.k%2==1?(datum.k-1)/2:-datum.k/2)+(datum.n%2==0?0.5:0))*min(0.125,0.62/max(1,datum.n-1))", "as": "x"}],
  "mark": {"type": "point", "filled": true, "size": 32, "color": "#111", "opacity": 1},
  "encoding": {"shape": {"field": "g", "type": "nominal", "scale": {"domain": [1,2,3,4], "range": ["circle","square","triangle-up","triangle-down"]}, "legend": null}}},
 {"data": {"name": "pts"}, "transform": [{"filter": "datum.p=='d'"},{"aggregate": [{"op": "median", "field": "v", "as": "v"}], "groupby": ["g"]},{"calculate": "datum.g", "as": "x"}],
  "mark": {"type": "tick", "orient": "horizontal", "size": 32, "thickness": 1, "color": "#555"}},
 {"data": {"name": "br"}, "transform": [{"filter": "datum.p=='d'"}], "mark": {"type": "rule", "color": "#666", "strokeWidth": 1}, "encoding": {"x2": {"field": "x2"}, "y2": {"field": "v2"}}},
 {"data": {"name": "lab"}, "transform": [{"filter": "datum.p=='d'"}], "mark": {"type": "text", "fontStyle": "italic", "align": "right", "baseline": "middle", "dx": -2.5, "fontSize": 10, "color": "#222"}, "encoding": {"text": {"field": "s"}}},
 {"data": {"name": "lab"}, "transform": [{"filter": "datum.p=='d'"}], "mark": {"type": "text", "align": "left", "baseline": "middle", "fontSize": 10, "color": "#222"}, "encoding": {"text": {"field": "t"}}}
]}
], "spacing": 30},
{"width": 186, "height": 144,
 "encoding": {
  "x": {"field": "x", "type": "quantitative", "scale": {"domain": [0.5,4.5], "nice": false, "zero": false}, "axis": {"values": [1,2,3,4], "labelExpr": "['','Healthy control','HCV-cirrhosis','HBV-cirrhosis','Hepatitis B'][datum.value]", "title": "(e)"}},
  "y": {"field": "v", "type": "quantitative", "scale": {"domain": [0,20], "nice": false}, "axis": {"values": [0,5,10,15,20], "title": "Treg (%)"}}},
 "layer": [
 {"data": {"name": "pts"}, "transform": [{"filter": "datum.p=='e'"},{"calculate": "floor(datum.v/0.76)", "as": "bin"},{"window": [{"op": "row_number", "as": "k"}], "groupby": ["g","bin"]},{"joinaggregate": [{"op": "count", "as": "n"}], "groupby": ["g","bin"]},{"calculate": "datum.g+((datum.k%2==1?(datum.k-1)/2:-datum.k/2)+(datum.n%2==0?0.5:0))*min(0.125,0.62/max(1,datum.n-1))", "as": "x"}],
  "mark": {"type": "point", "filled": true, "size": 32, "color": "#111", "opacity": 1},
  "encoding": {"shape": {"field": "g", "type": "nominal", "scale": {"domain": [1,2,3,4], "range": ["circle","square","triangle-up","triangle-down"]}, "legend": null}}},
 {"data": {"name": "pts"}, "transform": [{"filter": "datum.p=='e'"},{"aggregate": [{"op": "median", "field": "v", "as": "v"}], "groupby": ["g"]},{"calculate": "datum.g", "as": "x"}],
  "mark": {"type": "tick", "orient": "horizontal", "size": 32, "thickness": 1, "color": "#555"}},
 {"data": {"name": "br"}, "transform": [{"filter": "datum.p=='e'"}], "mark": {"type": "rule", "color": "#666", "strokeWidth": 1}, "encoding": {"x2": {"field": "x2"}, "y2": {"field": "v2"}}},
 {"data": {"name": "lab"}, "transform": [{"filter": "datum.p=='e'"}], "mark": {"type": "text", "fontStyle": "italic", "align": "right", "baseline": "middle", "dx": -2.5, "fontSize": 10, "color": "#222"}, "encoding": {"text": {"field": "s"}}},
 {"data": {"name": "lab"}, "transform": [{"filter": "datum.p=='e'"}], "mark": {"type": "text", "align": "left", "baseline": "middle", "fontSize": 10, "color": "#222"}, "encoding": {"text": {"field": "t"}}}
]}
]
}
